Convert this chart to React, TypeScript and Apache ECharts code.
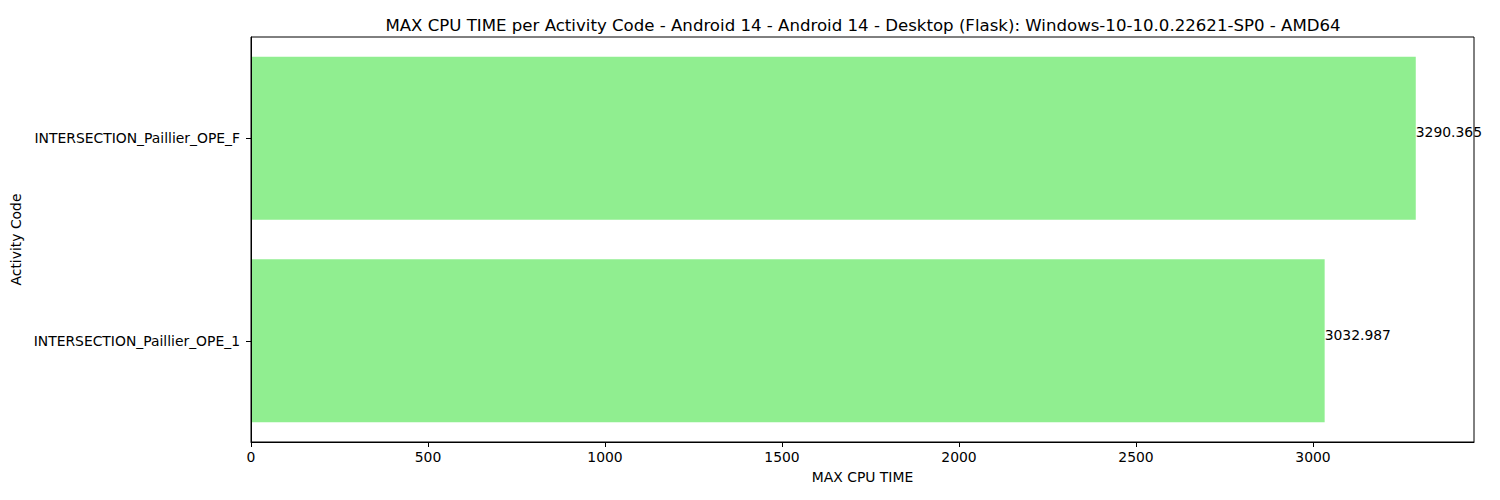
import React, { useEffect, useRef } from "react";
import * as echarts from "echarts";

const titleText =
  "MAX CPU TIME per Activity Code - Android 14 - Android 14 - Desktop (Flask): Windows-10-10.0.22621-SP0 - AMD64";
const categories = ["INTERSECTION_Paillier_OPE_1", "INTERSECTION_Paillier_OPE_F"];
const values = [3032.987, 3290.365];
const xTicks = [0, 500, 1000, 1500, 2000, 2500, 3000];
const xMax = 3454.88;

const FONT = "DejaVu Sans";

export default function App() {
  const ref = useRef<HTMLDivElement>(null);
  useEffect(() => {
    if (!ref.current) return;
    const chart = echarts.init(ref.current, null, { renderer: "svg" });
    chart.setOption({
      animation: false,
      textStyle: { fontFamily: FONT, color: "#000" },
      title: {
        text: titleText,
        left: 858,
        top: 12,
        textAlign: "center",
        textStyle: { fontFamily: FONT, fontSize: 16.6, fontWeight: "normal", color: "#000" },
      },
      grid: {
        left: 251,
        right: 26,
        top: 37,
        bottom: 58,
        show: true,
        borderColor: "#000",
        borderWidth: 1,
        containLabel: false,
        z: 10,
      },
      xAxis: {
        type: "value",
        min: 0,
        max: xMax,
        z: 10,
        name: "MAX CPU TIME",
        nameLocation: "middle",
        nameGap: 28,
        nameTextStyle: { fontFamily: FONT, fontSize: 13.9, color: "#000" },
        splitLine: { show: false },
        axisLine: { show: true, lineStyle: { color: "#000", width: 1 } },
        axisTick: {
          show: true,
          length: 5,
          lineStyle: { color: "#000" },
          customValues: xTicks,
        },
        axisLabel: {
          fontFamily: FONT,
          fontSize: 13.9,
          color: "#000",
          margin: 8,
          customValues: xTicks,
          formatter: (v: number) => String(v),
        },
      },
      yAxis: {
        type: "category",
        data: categories,
        z: 10,
        name: "Activity Code",
        nameLocation: "middle",
        nameGap: 216,
        nameTextStyle: { fontFamily: FONT, fontSize: 13.9, color: "#000" },
        axisLine: { show: true, lineStyle: { color: "#000", width: 1 } },
        axisTick: { show: true, length: 5, alignWithLabel: true, lineStyle: { color: "#000" } },
        axisLabel: { fontFamily: FONT, fontSize: 13.9, color: "#000", margin: 11 },
        splitLine: { show: false },
      },
      series: [
        {
          type: "bar",
          data: values,
          barWidth: 163,
          z: 2,
          itemStyle: { color: "#90EE90" },
          label: {
            show: true,
            position: "right",
            distance: 0,
            offset: [0, -6],
            formatter: (p: any) => String(p.value),
            fontFamily: FONT,
            fontSize: 13.9,
            color: "#000",
          },
        },
      ],
    });
    return () => chart.dispose();
  }, []);
  return (
    <div
      ref={ref}
      style={{ position: "fixed", left: 0, top: 0, width: 1500, height: 500, background: "#fff" }}
    />
  );
}
